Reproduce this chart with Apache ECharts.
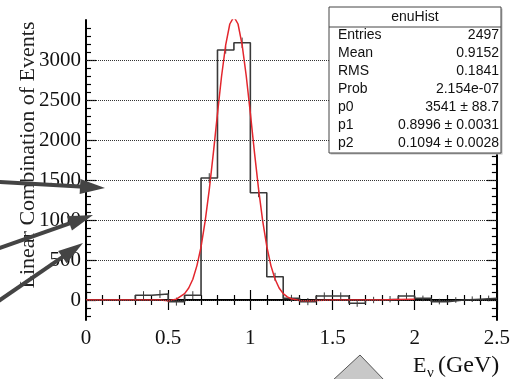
<!DOCTYPE html>
<html>
<head>
<meta charset="utf-8">
<script src="https://cdn.jsdelivr.net/npm/echarts@6/dist/echarts.min.js"></script>
<style>html,body{margin:0;padding:0;background:#fff;}#c{width:513px;height:379px;}</style>
</head>
<body>
<div id="c"></div>
<script>
// ---- data ----
var binLow    = [0.0,0.1,0.2,0.3,0.4,0.5,0.6,0.7,0.8,0.9,1.0,1.1,1.2,1.3,1.4,1.5,1.6,1.7,1.8,1.9,2.0,2.1,2.2,2.3,2.4];
var binCounts = [0,0,0,60,75,-20,60,1525,3125,3215,1340,290,20,-20,50,50,-40,0,10,50,20,-20,0,10,20];
var binErrors = [0,0,0,50,50,50,50,60,45,65,55,50,45,45,45,45,45,40,40,40,35,35,35,35,35];
var histEnd   = 2.5;

var fitX = [0,0.1,0.2,0.3,0.4,0.45,0.5,0.55,0.6,0.625,0.65,0.675,0.7,0.725,0.75,0.775,0.8,0.825,0.85,0.875,0.9,0.925,0.95,0.975,1.0,1.025,1.05,1.075,1.1,1.125,1.15,1.175,1.2,1.225,1.25,1.3,1.35,1.4,1.5,1.6,1.7,1.8,1.9,2.0];
var fitY = [0,0,0,0,0,0,-8,10,80,150,260,430,665,985,1380,1840,2330,2800,3190,3450,3540,3450,3190,2800,2335,1845,1385,990,670,430,262,150,80,40,15,-5,-10,-5,0,0,0,0,5,10];

var yMajorTicks = [0,500,1000,1500,2000,2500,3000];
var yMinorTicks = [-200,-100,100,200,300,400,600,700,800,900,1100,1200,1300,1400,1600,1700,1800,1900,2100,2200,2300,2400,2600,2700,2800,2900,3100,3200,3300,3400];
var gridValues  = [0,500,1000,1500,2000,2500,3000];

var statsTitle  = 'enuHist';
var statsLabels = ['Entries','Mean','RMS','Prob','p0','p1','p2'];
var statsValues = ['2497','0.9152','0.1841','2.154e-07','3541 \u00b1 88.7','0.8996 \u00b1 0.0031','0.1094 \u00b1 0.0028'];

var yTitle = 'Linear Combination of Events';
var xTitleMain = 'E';
var xTitleSub = '\u03bd';
var xTitleUnit = '(GeV)';

// ---- chart ----
var serif = '"Liberation Serif","DejaVu Serif",serif';
var sans = '"Liberation Sans",Arial,sans-serif';

var histData = binLow.map(function(x,i){return [x, binCounts[i]];});
histData.push([histEnd, binCounts[binCounts.length-1]]);
var errData = [];
binLow.forEach(function(x,i){ if (binErrors[i] > 0) errData.push([x+0.05, binCounts[i], binErrors[i]]); });
var fitData = fitX.map(function(x,i){return [x, fitY[i]];});

var axisLineStyle = {color:'#000', width:2};

function yAx(pos, ticks, len, labels, line){
  return {
    type:'value', position:pos, min:-250, max:3500, offset:0,
    axisLine:{show:line, lineStyle:axisLineStyle},
    axisTick:{show:true, inside:true, length:len, customValues:ticks, lineStyle:{color:'#000', width:1.2}},
    axisLabel:{show:labels, customValues:yMajorTicks, margin:5, fontFamily:serif, fontSize:21, color:'#111',
      formatter:function(v){return String(Math.round(v));}},
    splitLine:{show:false}, minorTick:{show:false}
  };
}
function xAx(pos, labels){
  return {
    type:'value', position:pos, min:0, max:2.5, interval:0.5,
    axisLine:{show:true, lineStyle:axisLineStyle},
    axisTick:{show:true, inside:true, length:10, lineStyle:{color:'#000', width:1.2}},
    minorTick:{show:true, splitNumber:5, length:5, lineStyle:{color:'#000', width:1.2}},
    axisLabel:{show:labels, margin:8, fontFamily:serif, fontSize:21, color:'#111',
      formatter:function(v){return String(+v.toFixed(1));}},
    splitLine:{show:false}
  };
}

var statsGraphics = [];
var bx=329, by=7, bw=172, bh=146;
statsGraphics.push({type:'rect', shape:{x:bx+1.5,y:by+1.5,width:bw,height:bh}, style:{fill:'#bbb'}, z:99});
statsGraphics.push({type:'rect', shape:{x:bx,y:by,width:bw,height:bh}, style:{fill:'#fff', stroke:'#444', lineWidth:1}, z:100});
statsGraphics.push({type:'line', shape:{x1:bx,y1:27,x2:bx+bw,y2:27}, style:{stroke:'#444', lineWidth:1}, z:101});
statsGraphics.push({type:'text', x:bx+bw/2, y:17.5, style:{text:statsTitle, font:'14px '+sans, fill:'#111', textAlign:'center', textVerticalAlign:'middle'}, z:101});
statsLabels.forEach(function(l,i){
  var yy = 35.5 + i*18;
  statsGraphics.push({type:'text', x:338, y:yy, style:{text:l, font:'14px '+sans, fill:'#111', textAlign:'left', textVerticalAlign:'middle'}, z:101});
  statsGraphics.push({type:'text', x:499, y:yy, style:{text:statsValues[i], font:'14px '+sans, fill:'#111', textAlign:'right', textVerticalAlign:'middle'}, z:101});
});

function arrow(tail, tip, color){
  var dx=tip[0]-tail[0], dy=tip[1]-tail[1], L=Math.sqrt(dx*dx+dy*dy);
  var ux=dx/L, uy=dy/L, px=-uy, py=ux, hl=25, hw=7.5;
  var bxc=tip[0]-hl*ux, byc=tip[1]-hl*uy;
  return [
    {type:'line', shape:{x1:tail[0],y1:tail[1],x2:bxc+4*ux,y2:byc+4*uy}, style:{stroke:color, lineWidth:4}, z:120},
    {type:'polygon', shape:{points:[[tip[0],tip[1]],[bxc+hw*px,byc+hw*py],[bxc-hw*px,byc-hw*py]]}, style:{fill:color}, z:121}
  ];
}
var arrows = [].concat(
  arrow([-2,182],[105,188],'#444'),
  arrow([-2,248.7],[93,215],'#444'),
  arrow([-2,301.4],[83,243],'#444')
);

var chart = echarts.init(document.getElementById('c'), null, {renderer:'canvas'});
chart.setOption({
  animation:false,
  backgroundColor:'#fff',
  grid:{left:86, right:16, top:20, bottom:59},
  xAxis:[xAx('bottom', true), xAx('top', false)],
  yAxis:[
    yAx('left', yMajorTicks, 10, true, true),
    yAx('left', yMinorTicks, 5, false, false),
    yAx('right', yMajorTicks, 10, false, true),
    yAx('right', yMinorTicks, 5, false, false)
  ],
  series:[
    {type:'line', data:[], z:1, silent:true,
     markLine:{silent:true, symbol:'none', label:{show:false},
       lineStyle:{type:'dotted', color:'#333', width:1},
       data:gridValues.map(function(v){return {yAxis:v};})}},
    {type:'line', data:histData, step:'end', symbol:'none', z:3,
     lineStyle:{color:'#3a3a3a', width:1.6}},
    {type:'custom', data:errData, z:3,
     renderItem:function(params, api){
       var x=api.value(0), y=api.value(1), e=api.value(2);
       var p1=api.coord([x,y-e]), p2=api.coord([x,y+e]);
       return {type:'line', shape:{x1:p1[0],y1:p1[1],x2:p2[0],y2:p2[1]}, style:{stroke:'#3a3a3a', lineWidth:1}};
     }},
    {type:'line', data:fitData, symbol:'none', smooth:false, z:4, clip:true,
     lineStyle:{color:'#e3262d', width:1.5}}
  ],
  graphic:[].concat(statsGraphics, [
    {type:'text', x:28, y:155, rotation:Math.PI/2,
     style:{text:yTitle, font:'22px '+serif, fill:'#222', textAlign:'center', textVerticalAlign:'middle'}, z:50},
    {type:'text', x:413, y:366, style:{text:xTitleMain, font:'22px '+serif, fill:'#111', textAlign:'left', textVerticalAlign:'middle'}, z:50},
    {type:'text', x:427, y:373, style:{text:xTitleSub, font:'15px '+serif, fill:'#111', textAlign:'left', textVerticalAlign:'middle'}, z:50},
    {type:'text', x:438, y:366, style:{text:xTitleUnit, font:'24px '+serif, fill:'#111', textAlign:'left', textVerticalAlign:'middle'}, z:50},
    {type:'polygon', shape:{points:[[332,381],[360,355],[385,381]]}, style:{fill:'#c8c8c8', stroke:'#555', lineWidth:1}, z:50}
  ], arrows)
});
</script>
</body>
</html>
